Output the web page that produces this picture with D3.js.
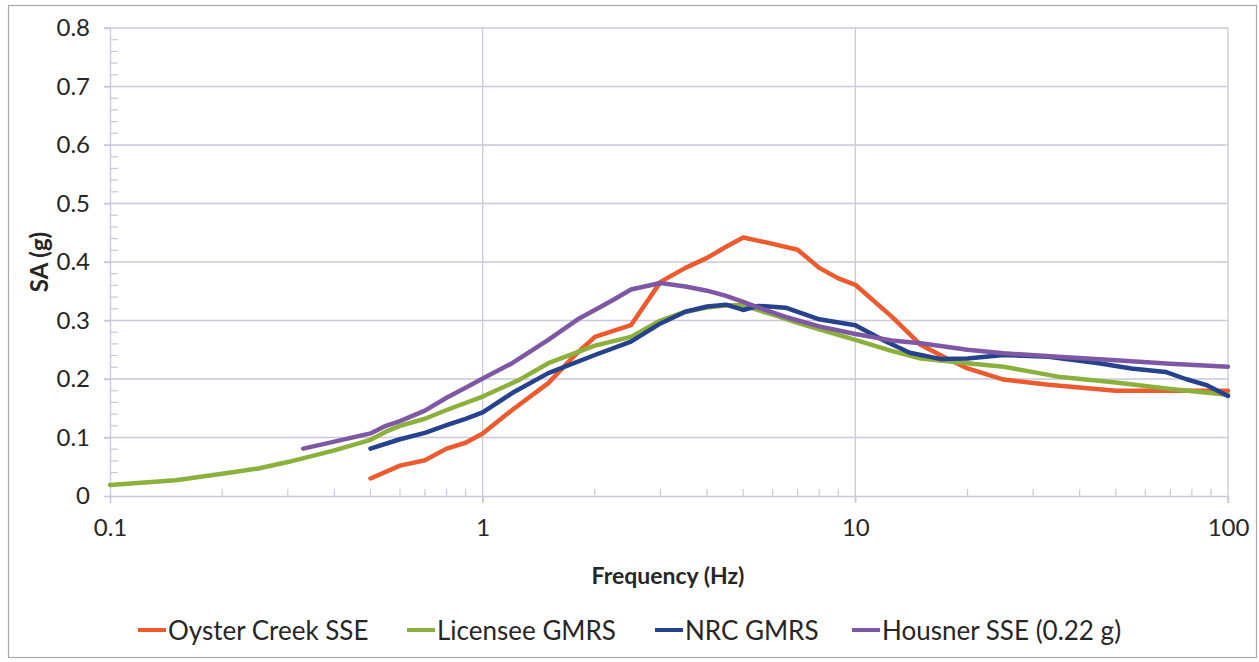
<!DOCTYPE html>
<html>
<head>
<meta charset="utf-8">
<script src="https://cdn.jsdelivr.net/npm/d3@7"></script>
<style>
  html, body { margin: 0; padding: 0; background: #fff; }
  svg { display: block; }
  text { font-family: Lato, "Open Sans", sans-serif; fill: #262626; }
</style>
</head>
<body>
<svg id="chart" width="1259" height="662"></svg>
<script>
// Response spectra: frequency (Hz) vs spectral acceleration (g)
const seriesNames = ["Oyster Creek SSE", "Licensee GMRS", "NRC GMRS", "Housner SSE (0.22 g)"];
const seriesColors = ["#ec5a2e", "#8cb03c", "#27428c", "#7e58a4"];

const oysterCreek = [
  [0.5, 0.03], [0.6, 0.052], [0.7, 0.061], [0.8, 0.081], [0.9, 0.091], [1.0, 0.107],
  [1.2, 0.147], [1.5, 0.193], [1.75, 0.238], [2.0, 0.272], [2.5, 0.292], [3.0, 0.366],
  [3.5, 0.39], [4.0, 0.407], [4.5, 0.426], [5.0, 0.442], [6.0, 0.431], [7.0, 0.421],
  [8.0, 0.39], [9.0, 0.372], [10, 0.361], [12.5, 0.307], [15, 0.258], [17.5, 0.236],
  [20, 0.218], [25, 0.199], [33, 0.19], [50, 0.18], [100, 0.18]
];
const licenseeGmrs = [
  [0.1, 0.019], [0.15, 0.027], [0.2, 0.038], [0.25, 0.047], [0.3, 0.058], [0.4, 0.078],
  [0.5, 0.096], [0.55, 0.11], [0.6, 0.12], [0.7, 0.132], [0.8, 0.147], [1.0, 0.17],
  [1.25, 0.198], [1.5, 0.227], [2.0, 0.257], [2.5, 0.272], [3.0, 0.3], [3.5, 0.315],
  [4.0, 0.322], [4.5, 0.326], [5.0, 0.326], [6.0, 0.31], [7.0, 0.296], [8.0, 0.285],
  [10, 0.267], [12.5, 0.248], [15, 0.235], [20, 0.227], [25, 0.221], [35, 0.204],
  [50, 0.194], [70, 0.183], [100, 0.173]
];
const nrcGmrs = [
  [0.5, 0.081], [0.6, 0.097], [0.7, 0.108], [0.8, 0.121], [0.9, 0.132], [1.0, 0.143],
  [1.2, 0.176], [1.5, 0.21], [2.0, 0.241], [2.5, 0.264], [3.0, 0.295], [3.5, 0.315],
  [4.0, 0.324], [4.5, 0.327], [5.0, 0.318], [5.5, 0.325], [6.5, 0.322], [8.0, 0.302],
  [10, 0.292], [12, 0.265], [14, 0.245], [17, 0.234], [20, 0.235], [25, 0.241],
  [33, 0.238], [45, 0.227], [55, 0.218], [68, 0.212], [77, 0.2], [88, 0.189], [100, 0.171]
];
const housnerSse = [
  [0.33, 0.081], [0.4, 0.093], [0.5, 0.107], [0.55, 0.12], [0.6, 0.128], [0.7, 0.146],
  [0.8, 0.168], [0.9, 0.185], [1.0, 0.201], [1.2, 0.227], [1.5, 0.267], [1.8, 0.302],
  [2.0, 0.318], [2.25, 0.336], [2.5, 0.353], [3.0, 0.364], [3.5, 0.358], [4.0, 0.351],
  [4.5, 0.342], [5.0, 0.332], [5.5, 0.322], [6.5, 0.306], [8, 0.29], [10, 0.277],
  [12.5, 0.266], [15, 0.261], [20, 0.25], [25, 0.244], [35, 0.238], [50, 0.232],
  [70, 0.226], [100, 0.221]
];

const xTickValues = [0.1, 1, 10, 100];
const xTickLabels = ["0.1", "1", "10", "100"];
const yTickValues = [0, 0.1, 0.2, 0.3, 0.4, 0.5, 0.6, 0.7, 0.8];
const yTickLabels = ["0", "0.1", "0.2", "0.3", "0.4", "0.5", "0.6", "0.7", "0.8"];

const allSeries = [oysterCreek, licenseeGmrs, nrcGmrs, housnerSse];

const svg = d3.select("#chart");
const gridColor = "#c9c9da";
const plot = { left: 110, right: 1228, top: 28, bottom: 496 };

const x = d3.scaleLog().domain([0.1, 100]).range([plot.left, plot.right]);
const y = d3.scaleLinear().domain([0, 0.8]).range([plot.bottom, plot.top]);

// chart frame
svg.append("rect")
  .attr("x", 8.5).attr("y", 5.5).attr("width", 1248).attr("height", 652)
  .attr("fill", "#fff").attr("stroke", "#a9a9a9").attr("stroke-width", 1.2);

// horizontal gridlines with outward major ticks
svg.append("g").selectAll("line").data(yTickValues.slice(1)).join("line")
  .attr("x1", plot.left - 6).attr("x2", plot.right)
  .attr("y1", d => y(d)).attr("y2", d => y(d))
  .attr("stroke", gridColor).attr("stroke-width", 1.3);

// vertical gridlines at decades
svg.append("g").selectAll("line").data(xTickValues.slice(1)).join("line")
  .attr("x1", d => x(d)).attr("x2", d => x(d))
  .attr("y1", plot.top).attr("y2", plot.bottom + 7)
  .attr("stroke", gridColor).attr("stroke-width", 1.3);

// y axis with inner minor ticks
const yAxis = d3.axisLeft(y).tickValues(yTickValues)
  .tickFormat((d, i) => yTickLabels[i]).tickSize(6).tickPadding(14);
const gy = svg.append("g").attr("transform", `translate(${plot.left},0)`).call(yAxis);
gy.select(".domain").attr("stroke", gridColor).attr("stroke-width", 1.3);
gy.selectAll(".tick line").attr("stroke", gridColor).attr("stroke-width", 1.3);
gy.selectAll(".tick text").attr("font-size", 24).attr("fill", "#262626")
  .attr("font-family", "Lato, sans-serif");
const yMinor = d3.range(0, 0.8001, 0.02).filter(v => Math.abs(v * 10 - Math.round(v * 10)) > 1e-6);
svg.append("g").selectAll("line").data(yMinor).join("line")
  .attr("x1", plot.left).attr("x2", plot.left + 8)
  .attr("y1", d => y(d)).attr("y2", d => y(d))
  .attr("stroke", gridColor).attr("stroke-width", 1.2);

// x axis: major ticks downward, minor ticks upward
const xAxis = d3.axisBottom(x).tickValues(xTickValues)
  .tickFormat((d, i) => xTickLabels[i]).tickSize(7).tickPadding(16);
const gx = svg.append("g").attr("transform", `translate(0,${plot.bottom})`).call(xAxis);
gx.select(".domain").attr("stroke", gridColor).attr("stroke-width", 1.3);
gx.selectAll(".tick line").attr("stroke", gridColor).attr("stroke-width", 1.3);
gx.selectAll(".tick text").attr("font-size", 24).attr("fill", "#262626")
  .attr("font-family", "Lato, sans-serif");
const xMinor = [];
[0.1, 1, 10].forEach(dec => { for (let k = 2; k <= 9; k++) xMinor.push(dec * k); });
svg.append("g").selectAll("line").data(xMinor).join("line")
  .attr("x1", d => x(d)).attr("x2", d => x(d))
  .attr("y1", plot.bottom).attr("y2", plot.bottom - 7)
  .attr("stroke", gridColor).attr("stroke-width", 1.2);

// axis titles
svg.append("text")
  .attr("x", 668).attr("y", 584)
  .attr("text-anchor", "middle").attr("font-size", 23).attr("font-weight", "bold")
  .text("Frequency (Hz)");
svg.append("text")
  .attr("transform", `translate(48,262) rotate(-90)`)
  .attr("text-anchor", "middle").attr("font-size", 24).attr("font-weight", "bold")
  .text("SA (g)");

// spectra
const line = d3.line().x(d => x(d[0])).y(d => y(d[1]));
svg.append("g").selectAll("path").data(allSeries).join("path")
  .attr("d", line)
  .attr("fill", "none")
  .attr("stroke", (d, i) => seriesColors[i])
  .attr("stroke-width", 4.5)
  .attr("stroke-linejoin", "round")
  .attr("stroke-linecap", "round");

// legend
const legendX = [138, 407, 655, 852];
const legend = svg.append("g").selectAll("g").data(seriesNames).join("g")
  .attr("transform", (d, i) => `translate(${legendX[i]},630)`);
legend.append("line")
  .attr("x1", 0).attr("x2", 28).attr("y1", 0).attr("y2", 0)
  .attr("stroke", (d, i) => seriesColors[i]).attr("stroke-width", 4);
legend.append("text")
  .attr("x", 30).attr("y", 10)
  .attr("font-size", 26)
  .text(d => d);
</script>
</body>
</html>
